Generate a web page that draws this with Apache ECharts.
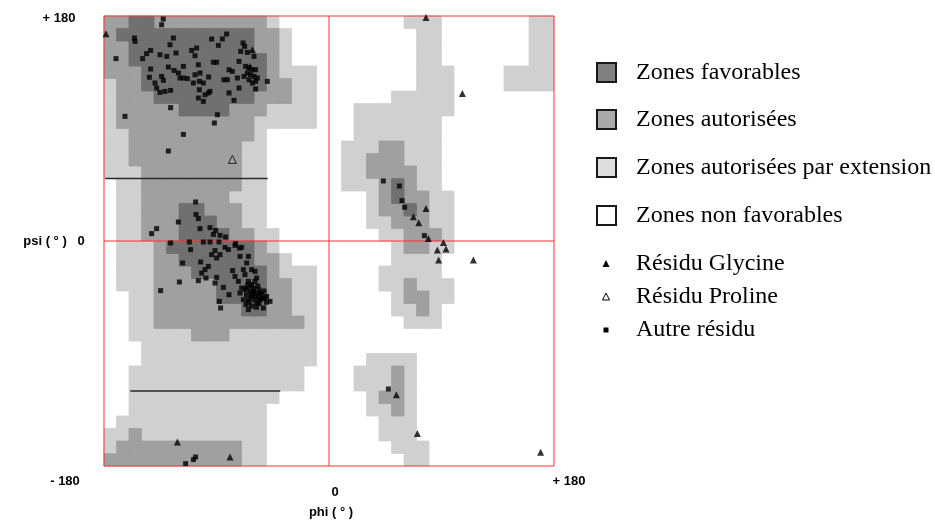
<!DOCTYPE html>
<html>
<head>
<meta charset="utf-8">
<script src="https://cdn.jsdelivr.net/npm/echarts@6/dist/echarts.min.js"></script>
<style>
  html, body { margin: 0; padding: 0; background: #ffffff; }
  #chart { width: 935px; height: 524px; }
</style>
</head>
<body>
<div id="chart"></div>
<script>
// Ramachandran region map, 10° cells.
// One string per psi band, from psi +180 (top) down to -180; characters run phi -180 .. +180.
// 0 = non favorable, 1 = autorisée par extension, 2 = autorisée, 3 = favorable
const zoneRows = [
  '223322 222222 210000 000000 111000 000011',
  '233333 333333 221000 000000 011000 000011',
  '223333 333333 221000 000000 011000 000011',
  '223333 333333 321000 000000 011000 000011',
  '222333 333333 321110 000000 011100 001111',
  '122333 333333 322110 000000 011100 001111',
  '122233 333333 222110 000001 111100 000000',
  '122222 333322 211110 001111 111100 000000',
  '122222 222222 111110 001111 111000 000000',
  '112222 222222 100000 001111 111000 000000',
  '112222 222221 100000 011122 111000 000000',
  '112222 222221 100000 011222 111000 000000',
  '111222 222221 100000 011222 211000 000000',
  '011222 222221 100000 011123 211000 000000',
  '011222 222211 100000 000123 221100 000000',
  '011222 332221 100000 000122 321100 000000',
  '011222 333221 100000 000112 221100 000000',
  '011222 333322 110000 000011 222100 000000',
  '011123 333333 210000 000001 221100 000000',
  '011122 333333 221000 000001 111000 000000',
  '011122 233333 321110 000011 111000 000000',
  '011122 222333 322110 000011 211100 000000',
  '001122 222333 322110 000001 221100 000000',
  '001122 222223 322110 000001 121000 000000',
  '001122 222222 222210 000000 111000 000000',
  '001111 122211 111110 000000 000000 000000',
  '000111 111111 111110 000000 000000 000000',
  '000111 111111 111110 000111 100000 000000',
  '001111 111111 111100 001112 100000 000000',
  '001111 111111 111100 001112 100000 000000',
  '001111 111111 110000 000122 100000 000000',
  '001111 111111 100000 000112 100000 000000',
  '011111 111111 100000 000011 100000 000000',
  '112111 111111 100000 000011 100000 000000',
  '122222 222221 100000 000001 110000 000000',
  '222222 222221 100000 000000 110000 000000'
];

// Residues as [phi, psi] in degrees
const autreResidus = [
  [-132.6,177.6],[-133.9,173],[-155.7,162.4],[-155.2,159.7],[-124.5,162.4],[-127.2,157],[-93.9,161.6],[-88.5,156.5],
  [-142.7,152.5],[-145.9,149.9],[-149.1,145.9],[-135.2,149],[-129.8,147.7],[-122.4,150.4],[-116.5,139.7],[-109.9,152.5],
  [-105.9,154.4],[-107.2,148.2],[-104.5,141],[-92.5,143],[-89.9,143],[-142.7,137.6],[-128.5,139.2],[-124,136.5],
  [-120.5,134.4],[-119.2,130.4],[-116.5,130.4],[-113.3,129.9],[-143.7,131],[-139.2,126.4],[-133.9,131.7],[-132.5,128.5],
  [-107.2,133],[-103.2,134.4],[-103.7,127.7],[-108.5,126.4],[-100.5,126.4],[-96.3,131.2],[-137.9,122.4],[-135.2,118.9],
  [-131.2,119.7],[-126.7,120.5],[-103.7,121],[-96.5,118.4],[-99.2,117],[-95.2,119.7],[-104.5,114.4],[-100.5,111.7],
  [-126.7,106.7],[-163.2,99.7],[-170.4,145.9],[-91.7,94.4],
  [-81.9,165.6],[-85.3,161.6],[-68.8,158.4],[-67.5,155.7],[-70.7,151.7],[-65.3,150.9],[-60,147.7],[-72,143.7],
  [-66.7,139.7],[-64,138.4],[-61.3,137],[-58.7,137],[-65.3,134.4],[-62.7,133],[-68,131.7],[-60,131.7],
  [-57.3,130.4],[-64,129],[-61.3,126.4],[-58.7,127.7],[-80,137],[-77.3,135.7],[-84,129],[-81.3,129],
  [-73.3,130.4],[-72,122.4],[-80,118.4],[-49.3,127.7],[-58.7,121.6],[-76,112.5],[-89.3,101],
  [-116.5,85.3],[-128.5,72],[-106.7,31.2],[-106.4,21.3],[-104.5,17.9],[-120.5,15.2],[-103.2,9.9],[-95.2,10.7],
  [-92.5,5.3],[-137.9,9.9],[-141.9,5.9],[-126.7,-1.6],[-111.7,-0.8],[-100.5,-0.8],[-95.2,-0.8],
  [-90.7,8.5],[-87.2,4.5],[-82.7,3.2],[-88,-0.8],[-74.7,-2.1],
  [-83.2,-5.1],[-80.5,-6.9],[-75.2,-3.5],[-71.7,-5.6],[-69.9,-5.1],[-110.7,-6.9],[-91.2,-7.7],[-93.9,-10.9],
  [-87.2,-10.9],[-89.9,-13.6],[-71.2,-12.3],[-64.5,-12.3],[-65.9,-17.6],[-117.1,-17.6],[-102.7,-16.8],[-96.5,-20.3],
  [-99.2,-22.9],[-101.9,-25.6],[-98.4,-29.6],[-89.9,-29.1],[-104.5,-31.7],[-119.7,-32.8],[-134.7,-39.7],[-91.2,-33.6],
  [-84.5,-37.1],[-77.1,-23.7],[-75.2,-28.3],[-72.5,-32.3],[-68.5,-22.9],[-67.2,-26.9],[-61.9,-22.9],[-59.2,-24.3],
  [-57.9,-29.6],[-61.9,-34.9],[-65.9,-37.6],[-60.5,-40.3],[-55.2,-41.6],[-49.9,-44.3],[-47.2,-48.3],[-51.2,-45.6],
  [-64.5,-46.9],[-68.5,-46.9],[-71.2,-41.6],[-66.4,-50.9],[-64.5,-54.9],[-52.5,-53.6],[-80,-42.9],[-87.7,-48.3],
  [-86.7,-53.6],[-57.9,-49.6],[-61.9,-42.9],[-56.5,-45.6],[-69.9,-37.6],[-59.2,-32.3],[-64.5,-32.3],
  [-60,-38],[-58,-42],[-62,-45],[-55,-47],[-57,-36],[-63,-40],[-66,-43],[-52,-40],[-60,-47],[-54,-43],[-67,-39],
  [-62,-36],[-56,-50],[-64,-49],[-59,-44],[-61,-41],[-53,-46],[-65,-35],[-58,-53],[-62,-52],[-56,-39],[-50,-49],
  [-114.7,-178.1],[-108.5,-174.9],[-106.7,-172.8],
  [43.5,48],[56.3,44],[58.4,32.3],[60.5,27],[76.3,4.3],[47.5,-118.4]
];
const glycineResidus = [
  [-178.4,165.9],[-61.3,153],[-63.2,139.7],[77.6,178.9],[106.7,118.1],[77.6,26.1],[67.5,19.5],[71.8,14.7],
  [79.5,2.1],[91.5,-1.1],[86.7,-7.2],[93.6,-6.4],[87.7,-15.2],[115.5,-15.2],[53.9,-122.9],[70.7,-154],
  [169.3,-169],[-121.3,-160.8],[-79.2,-172.8]
];
const prolineResidus = [[-77.3,65.3]];

// Horizontal guide segments, [phi, psi] end points
const guideLines = [
  [[-179, 50], [-49, 50]],
  [[-159, -120], [-39, -120]]
];
// Zero cross through the map
const zeroLines = [
  [[0, -180], [0, 180]],
  [[-180, 0], [180, 0]]
];

const zoneLabels = ['Zones favorables', 'Zones autorisées', 'Zones autorisées par extension', 'Zones non favorables'];
const residueLabels = ['Résidu Glycine', 'Résidu Proline', 'Autre résidu'];
const psiTickLabels = ['+ 180', '0', '- 180'];
const phiTickLabels = ['0', '+ 180'];
const axisNames = ['psi ( ° )', 'phi ( ° )'];

const zoneFill = [null, '#d0d0d0', '#a0a0a0', '#707070'];
const legendFill = ['#808080', '#aaaaaa', '#dedede', '#ffffff'];
const frameRed = '#ff3030';

// One cell per non-white grid square; lighter levels first so darker cells sit on top
const cells = [];
zoneRows.forEach(function (row, r) {
  const s = row.replace(/ /g, '');
  for (let c = 0; c < s.length; c++) {
    const level = +s[c];
    if (level > 0) cells.push([-180 + 10 * c, 170 - 10 * r, level]);
  }
});
cells.sort(function (a, b) { return a[2] - b[2]; });

const chart = echarts.init(document.getElementById('chart'), null, { renderer: 'canvas' });

const labelFont = { fontFamily: 'Liberation Sans, Arial, sans-serif', fontWeight: 'bold', fontSize: 13, fill: '#000' };
const legendFont = { fontFamily: 'Liberation Serif, Times New Roman, serif', fontSize: 24, fill: '#000' };

const graphics = [];
// axis tick texts and names
[[59, 18], [81, 241], [65, 481]].forEach(function (p, i) {
  graphics.push({ type: 'text', x: p[0], y: p[1], style: Object.assign({ text: psiTickLabels[i], textAlign: 'center', textVerticalAlign: 'middle' }, labelFont) });
});
[[335, 492], [569, 481]].forEach(function (p, i) {
  graphics.push({ type: 'text', x: p[0], y: p[1], style: Object.assign({ text: phiTickLabels[i], textAlign: 'center', textVerticalAlign: 'middle' }, labelFont) });
});
graphics.push({ type: 'text', x: 45, y: 241, style: Object.assign({ text: axisNames[0], textAlign: 'center', textVerticalAlign: 'middle' }, labelFont) });
graphics.push({ type: 'text', x: 331, y: 512, style: Object.assign({ text: axisNames[1], textAlign: 'center', textVerticalAlign: 'middle' }, labelFont) });

// legend: zone swatches
const zoneY = [73, 120, 168, 216];
zoneLabels.forEach(function (t, i) {
  graphics.push({ type: 'rect', shape: { x: 597, y: zoneY[i] - 10, width: 19, height: 19 },
    style: { fill: legendFill[i], stroke: '#1a1a1a', lineWidth: 2 } });
  graphics.push({ type: 'text', x: 636, y: zoneY[i], style: Object.assign({ text: t, textVerticalAlign: 'middle' }, legendFont) });
});
// legend: residue markers
const resY = [264, 297, 330];
graphics.push({ type: 'polygon', shape: { points: [[606, resY[0] - 4], [609.5, resY[0] + 3], [602.5, resY[0] + 3]] }, style: { fill: '#000' } });
graphics.push({ type: 'polygon', shape: { points: [[606, resY[1] - 4], [609.5, resY[1] + 3], [602.5, resY[1] + 3]] }, style: { fill: 'none', stroke: '#000', lineWidth: 1 } });
graphics.push({ type: 'rect', shape: { x: 603.5, y: resY[2] - 2.5, width: 5, height: 5 }, style: { fill: '#000' } });
residueLabels.forEach(function (t, i) {
  graphics.push({ type: 'text', x: 636, y: resY[i], style: Object.assign({ text: t, textVerticalAlign: 'middle' }, legendFont) });
});

const axisCommon = {
  type: 'value', min: -180, max: 180,
  axisLine: { show: false }, axisTick: { show: false }, axisLabel: { show: false }, splitLine: { show: false }
};

const option = {
  animation: false,
  backgroundColor: '#ffffff',
  grid: { left: 104, top: 16, width: 450, height: 450, show: true, borderColor: frameRed, borderWidth: 1, backgroundColor: 'transparent', z: 10 },
  xAxis: axisCommon,
  yAxis: axisCommon,
  graphic: graphics,
  series: [
    {
      type: 'custom', z: 1, silent: true, data: cells,
      renderItem: function (params, api) {
        const a = api.coord([api.value(0), api.value(1) + 10]);
        const b = api.coord([api.value(0) + 10, api.value(1)]);
        const fill = zoneFill[api.value(2)];
        return { type: 'rect', shape: { x: a[0], y: a[1], width: b[0] - a[0], height: b[1] - a[1] },
          style: { fill: fill, stroke: fill, lineWidth: 0.8 } };
      }
    },
    { type: 'line', z: 5, silent: true, data: guideLines[0], symbol: 'none', lineStyle: { color: '#2a2a2a', width: 1.5 } },
    { type: 'line', z: 5, silent: true, data: guideLines[1], symbol: 'none', lineStyle: { color: '#2a2a2a', width: 1.5 } },
    { type: 'line', z: 6, silent: true, data: zeroLines[0], symbol: 'none', lineStyle: { color: frameRed, width: 1 } },
    { type: 'line', z: 6, silent: true, data: zeroLines[1], symbol: 'none', lineStyle: { color: frameRed, width: 1 } },
    { type: 'scatter', z: 12, silent: true, data: autreResidus, symbol: 'rect', symbolSize: 5, itemStyle: { color: '#000' } },
    { type: 'scatter', z: 12, silent: true, data: glycineResidus, symbol: 'triangle', symbolSize: [7, 7], itemStyle: { color: '#000' } },
    { type: 'scatter', z: 12, silent: true, data: prolineResidus, symbol: 'triangle', symbolSize: [8, 8], itemStyle: { color: 'rgba(0,0,0,0)', borderColor: '#000', borderWidth: 1 } }
  ]
};
chart.setOption(option);
</script>
</body>
</html>
